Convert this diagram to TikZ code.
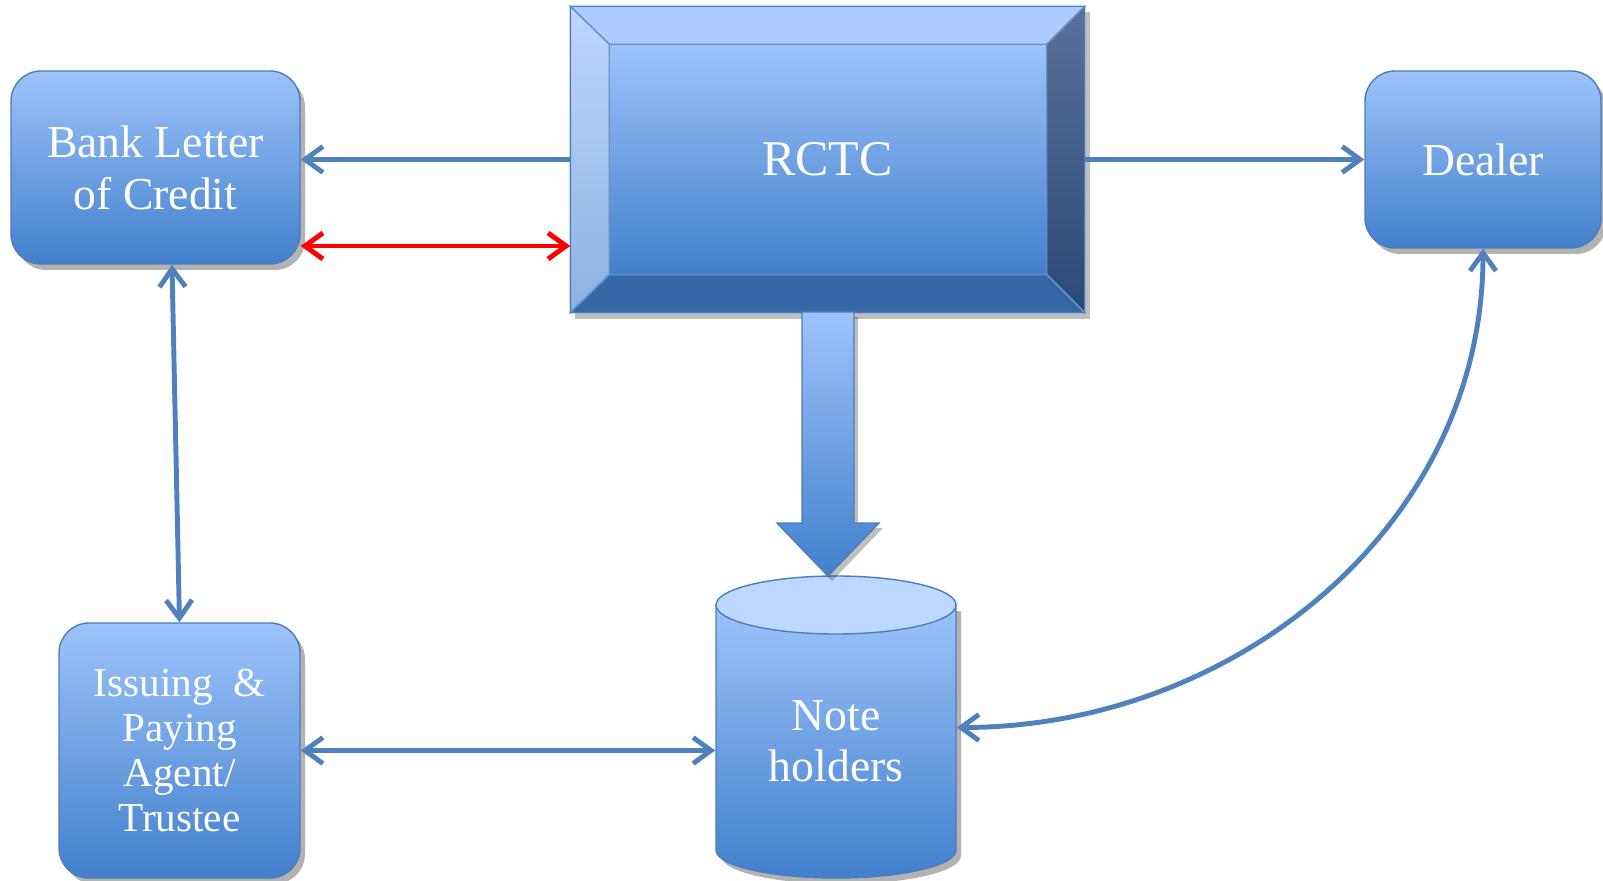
\documentclass[tikz,border=0pt]{standalone}
\usepackage{fontspec}
\setmainfont{Liberation Serif}
\usepackage{xcolor}
\usetikzlibrary{arrows.meta, positioning, backgrounds, shadows}
\definecolor{ctop}   {RGB}{157,195,250}
\definecolor{cbot}   {RGB}{ 66,128,204}
\definecolor{cedge}  {RGB}{ 74,126,187}
\definecolor{cline}  {RGB}{ 79,129,189}
\definecolor{ccap}   {RGB}{190,215,255}
\definecolor{cbtop}  {RGB}{173,203,255}
\definecolor{cbleftA}{RGB}{190,214,255}
\definecolor{cbleftB}{RGB}{140,178,226}
\definecolor{cbrgtA} {RGB}{ 90,112,153}
\definecolor{cbrgtB} {RGB}{ 42, 74,122}
\definecolor{cbbot}  {RGB}{ 54,104,168}
\tikzset{
  box/.style={rectangle, rounded corners=0.3cm, draw=cedge, thin,
              top color=ctop, bottom color=cbot,
              text=white, align=center, inner sep=2pt,
              font=\fontsize{13}{14.8}\selectfont,
              drop shadow={shadow xshift=0.5mm, shadow yshift=-0.6mm,
                           opacity=0.3, fill=black}},
  txt/.style={rectangle, text=white, align=center, inner sep=0pt},
  face/.style={draw=cedge!85, line width=0.4pt},
  arr/.style={-{Straight Barb[length=1.8mm,width=2.6mm]},
              line width=1.4pt, color=cline},
  dbl/.style={{Straight Barb[length=1.8mm,width=2.6mm]}-{Straight Barb[length=1.8mm,width=2.6mm]},
              line width=1.4pt, color=cline},
  redarr/.style={dbl, color=red},
}

\begin{document}
\begin{tikzpicture}
  \useasboundingbox (0,0) rectangle (16.03,8.80);

  % ── Parties ────────────────────────────────────────────────────────────────
  \node[box, minimum width=2.89cm, minimum height=1.93cm] at (1.555,7.125) (bank)
      {Bank Letter\\of Credit};
  \node[box, minimum width=2.36cm, minimum height=1.77cm] at (14.83,7.205) (dealer)
      {Dealer};
  \node[box, minimum width=2.41cm, minimum height=2.55cm,
        font=\fontsize{11.7}{12.8}\selectfont] at (1.795,1.295) (issue)
      {Issuing~\ \&\\Paying\\Agent/\\Trustee};

  % ── RCTC (bevelled block) ──────────────────────────────────────────────────
  \node[txt, minimum width=5.13cm, minimum height=3.05cm,
        font=\fontsize{14.2}{16}\selectfont] at (8.275,7.205) (rctc) {RCTC};
  \coordinate (inw) at ([shift={(0.39,-0.38)}]rctc.north west);
  \coordinate (ine) at ([shift={(-0.38,-0.38)}]rctc.north east);
  \coordinate (isw) at ([shift={(0.39,0.38)}]rctc.south west);
  \coordinate (ise) at ([shift={(-0.38,0.38)}]rctc.south east);
  \begin{scope}[on background layer]
    \fill[black, opacity=0.25] ([shift={(0.05,-0.06)}]rctc.south west)
        rectangle ([shift={(0.05,-0.06)}]rctc.north east);
    \fill[face, fill=cbtop] (rctc.north west) -- (rctc.north east) -- (ine) -- (inw) -- cycle;
    \shade[face, top color=cbleftA, bottom color=cbleftB]
        (rctc.north west) -- (inw) -- (isw) -- (rctc.south west) -- cycle;
    \shade[face, top color=cbrgtA, bottom color=cbrgtB]
        (rctc.north east) -- (rctc.south east) -- (ise) -- (ine) -- cycle;
    \fill[face, fill=cbbot] (rctc.south west) -- (isw) -- (ise) -- (rctc.south east) -- cycle;
    \shade[face, top color=ctop, bottom color=cbot] (inw) rectangle (ise);
    \draw[cedge, thin] (rctc.south west) rectangle (rctc.north east);
  \end{scope}

  % ── Note holders (cylinder) ────────────────────────────────────────────────
  \shade[draw=cedge, thin, top color=ctop, bottom color=cbot,
         drop shadow={shadow xshift=0.5mm, shadow yshift=-0.6mm, opacity=0.3, fill=black}]
      (7.16,2.75) -- (7.16,0.30)
      arc[start angle=180, end angle=360, x radius=1.2, y radius=0.28]
      -- (9.56,2.75) -- cycle;
  \filldraw[fill=ccap, draw=cedge, thin] (8.36,2.75) ellipse[x radius=1.2, y radius=0.29];
  \node[txt, minimum width=2.4cm, minimum height=2.73cm,
        font=\fontsize{13}{14.5}\selectfont] at (8.36,1.385) (notes) {Note\\holders};

  % ── Issue of notes (block arrow) ───────────────────────────────────────────
  \coordinate (tip) at (8.28,3.04);
  \shade[draw=cedge, thin, top color=ctop, bottom color=cbot,
         drop shadow={shadow xshift=0.4mm, shadow yshift=-0.5mm, opacity=0.25, fill=black}]
      (8.02,5.68) -- (8.02,3.57) -- (7.77,3.57) -- (tip)
      -- (8.79,3.57) -- (8.54,3.57) -- (8.54,5.68) -- cycle;

  % ── Arrows ─────────────────────────────────────────────────────────────────
  \draw[arr]    (rctc.west) -- (rctc.west -| bank.east);
  \draw[redarr] (bank.east |- 0,6.34) -- (rctc.west |- 0,6.34);
  \draw[arr]    (rctc.east) -- (dealer.west);
  \draw[dbl]    ([xshift=1.65mm]bank.south) -- (issue.north);
  \draw[dbl]    (issue.east) -- (issue.east -| notes.west);
  \draw[dbl]    (dealer.south) to[out=-90, in=0] ([yshift=1.4mm]notes.east);
\end{tikzpicture}
\end{document}
